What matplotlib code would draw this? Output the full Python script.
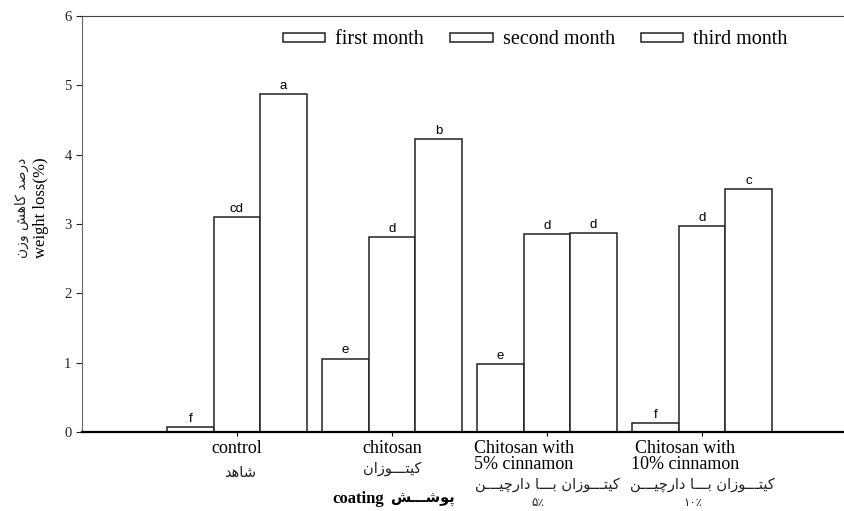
import numpy as np
import matplotlib
matplotlib.use("Agg")
import matplotlib.pyplot as plt

# data
groups = ['control', 'chitosan', 'Chitosan with\n5% cinnamon', 'Chitosan with\n10% cinnamon']
groups_fa = ['شاهد', 'کیتـــوزان', 'کیتـــوزان بـــا دارچیـــن', 'کیتـــوزان بـــا دارچیـــن']
groups_pct = ['', '', '۵٪', '۱۰٪']
months = ['first month', 'second month', 'third month']
first_month = [0.07, 1.06, 0.98, 0.13]
second_month = [3.10, 2.81, 2.85, 2.97]
third_month = [4.88, 4.23, 2.87, 3.51]
letters_first = ['f', 'e', 'e', 'f']
letters_second = ['cd', 'd', 'd', 'd']
letters_third = ['a', 'b', 'd', 'c']
yticks = [0, 1, 2, 3, 4, 5, 6]

# minimal arabic shaping (isolated, final, initial, medial)
FORMS = {
    'ا': (0xFE8D, 0xFE8E, None, None),
    'د': (0xFEA9, 0xFEAA, None, None),
    'ر': (0xFEAD, 0xFEAE, None, None),
    'ز': (0xFEAF, 0xFEB0, None, None),
    'و': (0xFEED, 0xFEEE, None, None),
    'ب': (0xFE8F, 0xFE90, 0xFE91, 0xFE92),
    'ت': (0xFE95, 0xFE96, 0xFE97, 0xFE98),
    'ش': (0xFEB5, 0xFEB6, 0xFEB7, 0xFEB8),
    'ص': (0xFEB9, 0xFEBA, 0xFEBB, 0xFEBC),
    'ن': (0xFEE5, 0xFEE6, 0xFEE7, 0xFEE8),
    'ه': (0xFEE9, 0xFEEA, 0xFEEB, 0xFEEC),
    'پ': (0xFB56, 0xFB57, 0xFB58, 0xFB59),
    'چ': (0xFB7A, 0xFB7B, 0xFB7C, 0xFB7D),
    'ک': (0xFB8E, 0xFB8F, 0xFB90, 0xFB91),
    'ی': (0xFBFC, 0xFBFD, 0xFBFE, 0xFBFF),
    'ـ': (0x0640, 0x0640, 0x0640, 0x0640),
}


def fa(text):
    out = []
    for i, ch in enumerate(text):
        if ch not in FORMS:
            out.append(ch)
            continue
        prev = text[i - 1] if i > 0 else ''
        nxt = text[i + 1] if i + 1 < len(text) else ''
        f = FORMS[ch]
        jp = prev in FORMS and FORMS[prev][2] is not None
        jn = f[2] is not None and nxt in FORMS
        if jp and jn:
            g = f[3]
        elif jp:
            g = f[1]
        elif jn:
            g = f[2]
        else:
            g = f[0]
        out.append(chr(g))
    return ''.join(out)[::-1]


plt.rcParams['font.family'] = ['Liberation Serif', 'DejaVu Sans']

fig = plt.figure(figsize=(8.45, 5.11), dpi=100)
ax = fig.add_axes([82 / 845, 79 / 511, 763 / 845, 416 / 511])

x = np.arange(len(groups))
w = 0.3
series = [first_month, second_month, third_month]
marks = [letters_first, letters_second, letters_third]
for i, (vals, lab) in enumerate(zip(series, months)):
    pos = x + (i - 1) * w
    ax.bar(pos, vals, w, color='white', edgecolor='#222222', linewidth=1.1, label=lab)
    for px, v, m in zip(pos, vals, marks[i]):
        ax.text(px, v + 0.03, m, ha='center', va='bottom', fontsize=9.5,
                family='Liberation Sans')

ax.set_xlim(-1.0, 3.923)
ax.set_ylim(0, 6)
ax.set_yticks(yticks)
ax.set_xticks(x)
ax.set_xticklabels([''] * len(x))
ax.tick_params(axis='y', direction='out', length=4, labelsize=10.5, colors='#222222')
ax.tick_params(axis='x', direction='out', length=3)
ax.spines['right'].set_visible(False)
ax.spines['top'].set_color('#444444')
ax.spines['left'].set_color('#666666')
ax.spines['bottom'].set_linewidth(1.6)

tr = ax.get_xaxis_transform()
offs = [0, 0, -0.15, -0.11]
for i, g in enumerate(groups):
    ax.text(x[i] + offs[i], (432 - 440) / 416, g, transform=tr, ha='center', va='top',
            fontsize=13, linespacing=0.9)
fa_y = [472, 468, 484, 484]
for i, g in enumerate(groups_fa):
    ax.text(x[i] + 0.02 * (i == 0), (432 - fa_y[i]) / 416, fa(g), transform=tr,
            ha='center', va='center', fontsize=10.5, family='DejaVu Sans', color='#222222')
    if groups_pct[i]:
        ax.text(x[i] - 0.06, (432 - 502) / 416, groups_pct[i], transform=tr,
                ha='center', va='center', fontsize=8.5, family='DejaVu Sans', color='#222222')

ax.text(0.95, (432 - 503) / 416, 'coating', transform=tr, ha='right', va='baseline',
        fontsize=12, fontweight='bold')
ax.text(0.99, (432 - 503) / 416, fa('پوشـــش'), transform=tr, ha='left', va='baseline',
        fontsize=10.5, fontweight='bold', family='DejaVu Sans')

fig.text(22 / 845, 1 - 208 / 511, fa('درصد کاهش وزن'), rotation=90, ha='center',
         va='center', fontsize=10, family='DejaVu Sans', color='#222222')
fig.text(41 / 845, 1 - 208 / 511, 'weight loss(%)', rotation=90, ha='center',
         va='center', fontsize=12)

ax.legend(loc='center left', bbox_to_anchor=((283 - 82) / 763, (432 - 40) / 416),
          ncol=3, frameon=False, fontsize=14.5, handlelength=2.1, handleheight=0.3,
          handletextpad=0.5, columnspacing=1.3, borderpad=0, borderaxespad=0)

fig.savefig('out.png', dpi=100)
